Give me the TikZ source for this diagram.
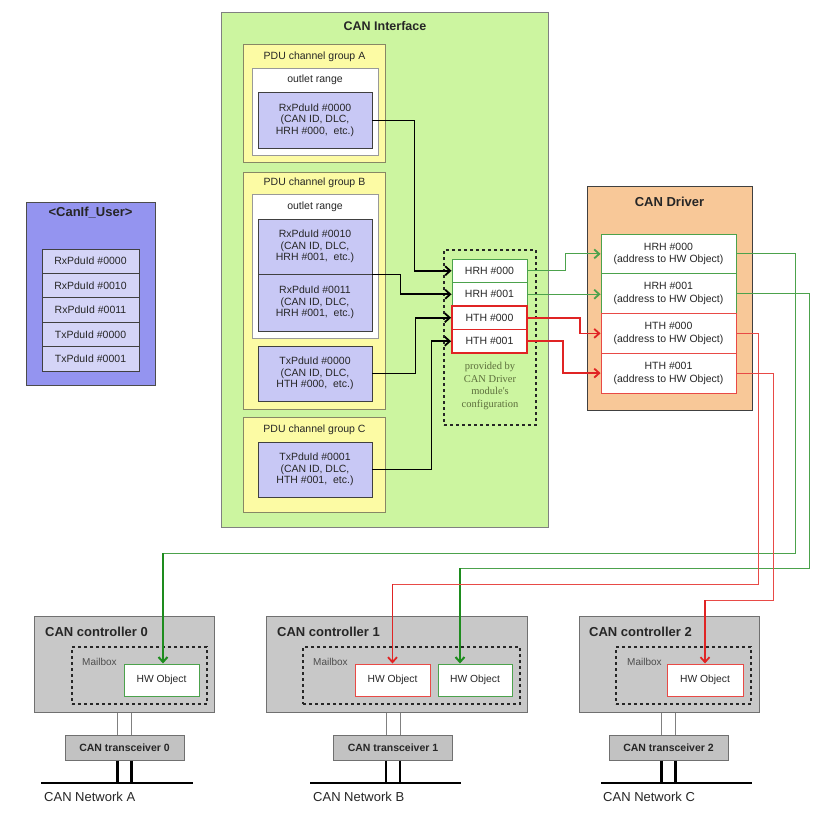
\documentclass[tikz,border=0pt]{standalone}
\usepackage{fontspec}
\setmainfont{Liberation Sans}
\newfontfamily\cfgfont{Liberation Serif}
\usetikzlibrary{arrows.meta,calc}
\definecolor{cigreen}{HTML}{CCF5A0}
\definecolor{grpyel}{HTML}{FCFBA4}
\definecolor{pdublue}{HTML}{C8C8F5}
\definecolor{userblue}{HTML}{9494F0}
\definecolor{userrow}{HTML}{D4D4F7}
\definecolor{drvpeach}{HTML}{F8C898}
\definecolor{ctrlgray}{HTML}{C8C8C8}
\definecolor{trgray}{HTML}{C2C2C2}
\definecolor{lgreen}{HTML}{4CA24C}
\definecolor{dgreen}{HTML}{1E8C1E}
\definecolor{lred}{HTML}{E84A46}
\definecolor{dred}{HTML}{E02424}
\definecolor{txt}{HTML}{262626}
\definecolor{cfgtxt}{HTML}{5C6E3C}
\definecolor{frm}{HTML}{707070}
\tikzset{
  frame/.style={rectangle, inner sep=0pt, line width=0.8pt, draw=frm},
  lbl/.style={inner sep=0pt, text=txt, font=\fontsize{10.5}{12}\selectfont, align=center},
  ttl/.style={inner sep=0pt, text=txt, font=\bfseries\fontsize{12.5}{14}\selectfont},
  ctitle/.style={inner sep=0pt, text=txt, anchor=west, font=\bfseries\fontsize{13}{15}\selectfont},
  pdu/.style={frame, fill=pdublue, draw=black!75, text=txt, align=center, minimum width=114, font=\fontsize{10.5}{11.7}\selectfont},
  grp/.style={frame, fill=grpyel, draw=black!45!grpyel!70!gray, line width=1pt, minimum width=142},
  outlet/.style={frame, fill=white, draw=gray!80, minimum width=126},
  sgreen/.style={frame, fill=white, draw=lgreen, line width=0.9pt, minimum width=75, minimum height=23.5, text=txt, font=\fontsize{10.5}{12}\selectfont},
  sred/.style={frame, fill=white, draw=dred, line width=1.8pt, minimum width=75, minimum height=23.5, text=txt, font=\fontsize{10.5}{12}\selectfont},
  dbox/.style={frame, fill=white, draw=#1, line width=0.9pt, minimum width=135, minimum height=39.75, align=center, text=txt, font=\fontsize{10.5}{12.7}\selectfont},
  urow/.style={frame, fill=userrow, draw=black!75, minimum width=97, minimum height=24.4, text=txt, font=\fontsize{10.5}{12}\selectfont},
  ctrl/.style={frame, fill=ctrlgray, draw=frm, line width=1pt, minimum height=96},
  mbox/.style={rectangle, draw=black!85, dashed, line width=1.6pt, inner sep=0pt, minimum height=57},
  hwobj/.style={frame, fill=white, draw=#1, line width=1pt, minimum height=32, text=txt, font=\fontsize{10.3}{12}\selectfont},
  trans/.style={frame, fill=trgray, draw=frm, line width=1pt, minimum width=119, minimum height=25, text=txt, font=\bfseries\fontsize{10.5}{12}\selectfont},
  mtext/.style={inner sep=0pt, anchor=west, text=black!70, font=\fontsize{10}{11}\selectfont},
  ntext/.style={inner sep=0pt, anchor=west, text=txt, font=\fontsize{13}{15}\selectfont},
  thinln/.style={line width=0.8pt, black},
  thickarr/.style={line width=1.8pt, black, -{Straight Barb[length=5pt,width=9pt]}},
  gthin/.style={line width=0.9pt, lgreen},
  garr/.style={line width=0.9pt, lgreen, -{Straight Barb[length=5pt,width=9pt,line width=1.8pt]}},
  gthick/.style={line width=2pt, dgreen, -{Straight Barb[length=5pt,width=9pt]}},
  rthick/.style={line width=1.8pt, dred, -{Straight Barb[length=5pt,width=9pt]}},
  rthin/.style={line width=0.9pt, lred},
  rarr/.style={line width=1.5pt, dred, -{Straight Barb[length=5pt,width=9pt,line width=1.8pt]}},
  wire/.style={line width=0.7pt, gray},
  bus/.style={line width=2.6pt, black},
}
\begin{document}
\begin{tikzpicture}[x=1pt,y=-1pt]
\useasboundingbox[fill=white] (0,0) rectangle (822,814);

% ---------------- CAN Interface ----------------
\node[frame, fill=cigreen, draw=gray, minimum width=327, minimum height=515] (ci) at (384.5,269.5) {};
\node[ttl] (citl) at (385,26) {CAN Interface};

\node[grp, minimum height=118] (grpA) at (314.5,103) {};
\node[lbl] (grpAl) at (314.5,57) {PDU channel group A};
\node[outlet, minimum height=87] (orA) at (315,111.5) {};
\node[lbl] (orAl) at (315,80) {outlet range};
\node[pdu, minimum height=56] (rx0000) at (315,120) {RxPduId \#0000\\(CAN ID, DLC,\\HRH \#000,\ \ etc.)};

\node[grp, minimum height=237] (grpB) at (314.5,290.5) {};
\node[lbl] (grpBl) at (314.5,183) {PDU channel group B};
\node[outlet, minimum height=144] (orB) at (315,266) {};
\node[lbl] (orBl) at (315,207) {outlet range};
\node[pdu, minimum height=55] (rx0010) at (315,246.5) {RxPduId \#0010\\(CAN ID, DLC,\\HRH \#001,\ \ etc.)};
\node[pdu, minimum height=57] (rx0011) at (315,302.5) {RxPduId \#0011\\(CAN ID, DLC,\\HRH \#001,\ \ etc.)};
\node[pdu, minimum height=55] (tx0000) at (315,373.5) {TxPduId \#0000\\(CAN ID, DLC,\\HTH \#000,\ \ etc.)};

\node[grp, minimum height=95] (grpC) at (314.5,464.5) {};
\node[lbl] (grpCl) at (314.5,430) {PDU channel group C};
\node[pdu, minimum height=55] (tx0001) at (315,469.5) {TxPduId \#0001\\(CAN ID, DLC,\\HTH \#001,\ \ etc.)};

% dashed configuration box
\node[rectangle, draw=black!85, dashed, line width=1.6pt, inner sep=0pt, minimum width=92, minimum height=175] (cfg) at (490,337.5) {};
\node[sgreen] (sHRH0) at (489.5,270.75) {HRH \#000};
\node[sgreen] (sHRH1) at (489.5,294.25) {HRH \#001};
\node[sred] (sHTH0) at (489.5,317.75) {HTH \#000};
\node[sred] (sHTH1) at (489.5,341.25) {HTH \#001};
\node[inner sep=0pt, align=center, text=cfgtxt, font=\cfgfont\fontsize{10.5}{12.7}\selectfont] (cfgt) at (490,386) {provided by\\CAN Driver\\module's\\configuration};

% ---------------- CanIf_User ----------------
\node[frame, fill=userblue, draw=black!70, minimum width=129, minimum height=183] (user) at (90.5,293.5) {};
\node[ttl, font=\bfseries\fontsize{13}{15}\selectfont] (usertl) at (90.5,213) {<CanIf\_User>};
\node[urow] (u1) at (90.5,261.2) {RxPduId \#0000};
\node[urow] (u2) at (90.5,285.6) {RxPduId \#0010};
\node[urow] (u3) at (90.5,310) {RxPduId \#0011};
\node[urow] (u4) at (90.5,334.4) {TxPduId \#0000};
\node[urow] (u5) at (90.5,358.8) {TxPduId \#0001};

% ---------------- CAN Driver ----------------
\node[frame, fill=drvpeach, draw=black!75, minimum width=165, minimum height=224] (drv) at (669.5,298) {};
\node[ttl, font=\bfseries\fontsize{13}{15}\selectfont] (drvtl) at (669.5,202) {CAN Driver};
\node[dbox=lgreen] (dHRH0) at (668.5,253.9) {HRH \#000\\(address to HW Object)};
\node[dbox=lgreen] (dHRH1) at (668.5,293.6) {HRH \#001\\(address to HW Object)};
\node[dbox=lred] (dHTH0) at (668.5,333.4) {HTH \#000\\(address to HW Object)};
\node[dbox=lred] (dHTH1) at (668.5,373.1) {HTH \#001\\(address to HW Object)};

% ---------------- Controllers ----------------
\node[ctrl, minimum width=180] (c0) at (124,664) {};
\node[ctitle] (c0t) at (45,632) {CAN controller 0};
\node[mbox, minimum width=135] (mb0) at (139.5,675.5) {};
\node[mtext] (mb0t) at (82,662) {Mailbox};
\node[hwobj=lgreen, minimum width=75] (hw0) at (161.5,680) {HW Object};

\node[ctrl, minimum width=261] (c1) at (396.5,664) {};
\node[ctitle] (c1t) at (277,632) {CAN controller 1};
\node[mbox, minimum width=217] (mb1) at (411.5,675.5) {};
\node[mtext] (mb1t) at (313,662) {Mailbox};
\node[hwobj=lred, minimum width=75] (hw1r) at (392.5,680) {HW Object};
\node[hwobj=lgreen, minimum width=74] (hw1g) at (475,680) {HW Object};

\node[ctrl, minimum width=180] (c2) at (669,664) {};
\node[ctitle] (c2t) at (589,632) {CAN controller 2};
\node[mbox, minimum width=135] (mb2) at (683.5,675.5) {};
\node[mtext] (mb2t) at (627,662) {Mailbox};
\node[hwobj=lred, minimum width=76] (hw2) at (705,680) {HW Object};

% transceivers
\node[trans] (t0) at (124.5,747.5) {CAN transceiver 0};
\node[trans] (t1) at (393,747.5) {CAN transceiver 1};
\node[trans] (t2) at (668.5,747.5) {CAN transceiver 2};

\foreach \t/\c in {t0/c0,t1/c1,t2/c2}{
  \coordinate (\t l) at ($(\t.north)+(-7,0)$);
  \coordinate (\t r) at ($(\t.north)+(7,0)$);
  \draw[wire] (\t l) -- (\t l |- \c.south);
  \draw[wire] (\t r) -- (\t r |- \c.south);
}
% buses
\coordinate (b0w) at (41,783); \coordinate (b0e) at (193,783);
\coordinate (b1w) at (310,783); \coordinate (b1e) at (461,783);
\coordinate (b2w) at (601,783); \coordinate (b2e) at (752,783);
\draw[bus] (b0w) -- (b0e);
\draw[bus] (b1w) -- (b1e);
\draw[bus] (b2w) -- (b2e);
\draw[bus] (t0l |- t0.south) -- (t0l |- b0w);
\draw[bus] (t0r |- t0.south) -- (t0r |- b0w);
\draw[bus] (t1l |- t1.south) -- (t1l |- b1w);
\draw[bus] (t1r |- t1.south) -- (t1r |- b1w);
\draw[bus] (t2l |- t2.south) -- (t2l |- b2w);
\draw[bus] (t2r |- t2.south) -- (t2r |- b2w);
\node[ntext] (n0) at (44,797) {CAN Network A};
\node[ntext] (n1) at (313,797) {CAN Network B};
\node[ntext] (n2) at (603,797) {CAN Network C};

% ---------------- PDU -> HRH/HTH connectors ----------------
\coordinate (k1) at (414,270.75);
\coordinate (k2) at (400,294.25);
\coordinate (k3) at (415,317.75);
\coordinate (k4) at (431,341.25);
\draw[thinln] (rx0000.east) -| (k1);
\draw[thickarr] (k1) -- (sHRH0.west);
\draw[thinln] (rx0010.south east) -| (k2);
\draw[thickarr] (k2) -- (sHRH1.west);
\draw[thinln] (tx0000.east) -| (k3);
\draw[thickarr] (k3) -- (sHTH0.west);
\draw[thinln] (tx0001.east) -| (k4);
\draw[thickarr] (k4) -- (sHTH1.west);

% ---------------- small boxes -> driver ----------------
\coordinate (g1) at (565,0);
\coordinate (r1) at (580,0);
\coordinate (r2) at (563,0);
\draw[garr] (sHRH0.east) -| (g1 |- dHRH0.west) -- (dHRH0.west);
\draw[garr] (sHRH1.east) -- (sHRH1.east -| dHRH1.west);
\draw[rthick] (sHTH0.east) -| (r1 |- dHTH0.west) -- (dHTH0.west);
\draw[rthick] (sHTH1.east) -| (r2 |- dHTH1.west) -- (dHTH1.west);

% ---------------- driver -> controllers ----------------
\coordinate (v0) at (795,553);
\coordinate (v1) at (809,568);
\coordinate (v2) at (758,584);
\coordinate (v3) at (773,600);
\coordinate (a0) at (163,553);
\coordinate (a1) at (460,568);
\draw[gthin] (dHRH0.east) -| (v0) -- (a0);
\draw[gthick] (a0) -- (a0 |- hw0.north);
\draw[gthin] (dHRH1.east) -| (v1) -- (a1);
\draw[gthick] (a1) -- (a1 |- hw1g.north);
\draw[rthin] (dHTH0.east) -| (v2) -- (v2 -| hw1r.north);
\draw[rarr] (v2 -| hw1r.north) -- (hw1r.north);
\draw[rthin] (dHTH1.east) -| (v3) -- (v3 -| hw2.north);
\draw[rarr] (v3 -| hw2.north) -- (hw2.north);
\end{tikzpicture}
\end{document}
